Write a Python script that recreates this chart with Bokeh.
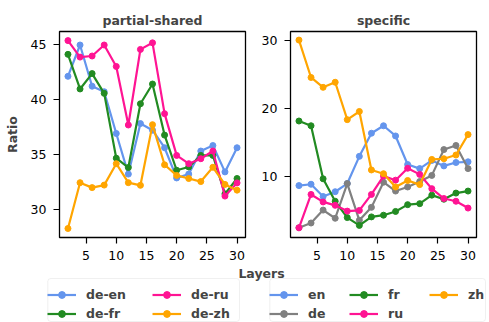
from bokeh.plotting import figure
from bokeh.layouts import column, row
from bokeh.models import Range1d, FixedTicker, Legend, LegendItem, Label, BoxAnnotation
from bokeh.embed import file_html
from bokeh.resources import INLINE

layers = [2, 4, 6, 8, 10, 12, 14, 16, 18, 20, 22, 24, 26, 28, 30]

# partial-shared panel
de_en = [42.1, 44.95, 41.2, 40.7, 36.9, 33.2, 37.8, 37.2, 35.6, 32.85, 33.2, 35.3, 35.8, 33.4, 35.6]
de_fr = [44.1, 40.95, 42.35, 40.55, 34.65, 33.8, 39.6, 41.4, 36.75, 33.55, 33.85, 34.9, 34.9, 31.4, 32.8]
de_ru = [45.35, 43.85, 43.95, 44.95, 43.0, 37.67, 44.55, 45.15, 38.7, 34.9, 34.15, 34.6, 35.3, 31.2, 32.4]
de_zh = [28.25, 32.42, 31.97, 32.2, 34.15, 32.42, 32.18, 37.7, 34.05, 33.08, 32.8, 32.52, 33.82, 32.26, 31.74]

# specific panel
en = [8.6, 8.8, 7.0, 7.7, 8.9, 12.9, 16.3, 17.4, 15.9, 11.7, 11.1, 12.3, 11.5, 12.0, 12.1]
de = [2.4, 3.1, 5.0, 3.8, 8.9, 3.5, 5.4, 9.1, 7.8, 8.4, 9.2, 10.1, 13.9, 14.5, 11.1]
fr = [18.1, 17.4, 9.6, 6.3, 3.9, 2.75, 4.0, 4.25, 4.8, 5.8, 5.95, 7.2, 6.6, 7.5, 7.8]
ru = [2.4, 7.3, 6.2, 5.7, 4.85, 4.95, 7.3, 10.0, 9.4, 11.15, 10.25, 8.15, 6.7, 6.3, 5.3]
zh = [30.0, 24.5, 23.05, 23.8, 18.3, 19.5, 10.9, 10.35, 8.4, 9.35, 8.75, 12.45, 12.55, 13.1, 16.1]

x_ticks = [5, 10, 15, 20, 25, 30]
left_y_ticks = [30, 35, 40, 45]
right_y_ticks = [10, 20, 30]

BLUE = "#6495ED"
GREEN = "#228B22"
PINK = "#FF1493"
ORANGE = "#FFA500"
GRAY = "#808080"

left_series = [("de-en", de_en, BLUE), ("de-fr", de_fr, GREEN),
               ("de-ru", de_ru, PINK), ("de-zh", de_zh, ORANGE)]
right_series = [("en", en, BLUE), ("de", de, GRAY), ("fr", fr, GREEN),
                ("ru", ru, PINK), ("zh", zh, ORANGE)]

FONT = "DejaVu Sans"
FS = "12.5px"
LW = 2.2
MS = 6


def make_panel(title, series, yr, yticks, border_left, border_right):
    p = figure(title=title, output_backend="svg", toolbar_location=None,
               frame_width=186, frame_height=206,
               min_border_left=border_left, min_border_right=border_right,
               min_border_top=31, min_border_bottom=28,
               x_range=Range1d(0.6, 31.4), y_range=Range1d(*yr))
    for name, ys, c in series:
        p.line(layers, ys, line_color=c, line_width=LW)
        p.scatter(layers, ys, color=c, size=MS)
    p.title.align = "center"
    p.title.text_font = FONT
    p.title.text_font_size = FS
    p.title.text_font_style = "bold"
    p.title.standoff = 8
    p.outline_line_color = "black"
    p.outline_line_width = 1.3
    p.outline_line_alpha = 1
    p.xgrid.visible = False
    p.ygrid.visible = False
    p.xaxis.ticker = FixedTicker(ticks=x_ticks)
    p.yaxis.ticker = FixedTicker(ticks=yticks)
    for ax in p.axis:
        ax.axis_line_color = None
        ax.major_tick_out = 6
        ax.major_tick_in = 0
        ax.major_tick_line_width = 1.2
        ax.minor_tick_out = 0
        ax.minor_tick_in = 0
        ax.major_label_text_font = FONT
        ax.major_label_text_font_size = FS
        ax.major_label_text_color = "black"
    p.xaxis.major_label_standoff = 7
    p.yaxis.major_label_standoff = 7
    p.background_fill_color = "white"
    p.border_fill_color = "white"
    return p


p1 = make_panel("partial-shared", left_series, (27.43, 46.18), left_y_ticks, 59, 13)
p1.yaxis.axis_label = "Ratio"
p1.yaxis.axis_label_text_font = FONT
p1.yaxis.axis_label_text_font_size = FS
p1.yaxis.axis_label_text_font_style = "bold"
p1.yaxis.axis_label_standoff = 8

p2 = make_panel("specific", right_series, (0.97, 31.26), right_y_ticks, 32, 13)

# bottom strip: x label and legends
PB_H = 57
pb = figure(output_backend="svg", toolbar_location=None, width=489, height=PB_H,
            x_range=Range1d(0, 489), y_range=Range1d(0, PB_H),
            x_axis_type=None, y_axis_type=None,
            min_border_left=0, min_border_right=0, min_border_top=0, min_border_bottom=0)
pb.outline_line_color = None
pb.xgrid.visible = False
pb.ygrid.visible = False
pb.background_fill_color = "white"
pb.border_fill_color = "white"
pb.extra_y_ranges = {"off": Range1d(-1000, -999)}

pb.add_layout(Label(x=261, y=49.2, text="Layers", text_align="center", text_baseline="middle",
                    text_font=FONT, text_font_size=FS, text_font_style="bold"))


def proxy_items(series):
    # legend proxies: the series drawn on an off-screen range, so only the legend shows them
    items = []
    for name, ys, c in series:
        r1 = pb.line(layers, ys, line_color=c, line_width=LW, y_range_name="off")
        r2 = pb.scatter(layers, ys, color=c, size=MS, y_range_name="off")
        items.append(LegendItem(label=name, renderers=[r1, r2]))
    return items


box1 = BoxAnnotation(left=47.3, right=239, bottom=1, top=44, fill_alpha=0,
                     line_color="#cccccc", line_width=1, border_radius=3)
box2 = BoxAnnotation(left=269.3, right=485, bottom=1, top=44, fill_alpha=0,
                     line_color="#cccccc", line_width=1, border_radius=3)
pb.add_layout(box1)
pb.add_layout(box2)


def make_legend(items, loc, label_width):
    lg = Legend(items=items, location=loc, orientation="vertical", nrows=2,
                glyph_width=29, glyph_height=17, label_height=17, label_width=label_width,
                label_standoff=10, padding=4, spacing=2, margin=0,
                label_text_font=FONT, label_text_font_size=FS, label_text_font_style="bold",
                border_line_color=None, background_fill_alpha=0)
    return lg


pb.add_layout(make_legend(proxy_items(left_series), (47, 0), 64))
pb.add_layout(make_legend(proxy_items(right_series), (269, 0), 39))

layout = column(row(p1, p2), pb)
open("out.html", "w").write(file_html(layout, INLINE))
